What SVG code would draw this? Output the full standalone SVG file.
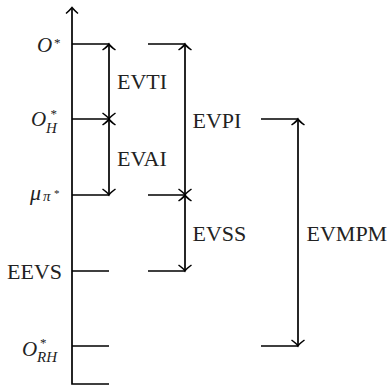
<svg xmlns="http://www.w3.org/2000/svg" width="390" height="387" viewBox="0 0 390 387">
<defs>
<style>
.ln{fill:none;stroke:#000;stroke-width:1.7;stroke-linecap:butt}
.ar{fill:none;stroke:#000;stroke-width:1.7;marker-start:url(#ah);marker-end:url(#ah)}
.lbl{font-family:"Liberation Serif","Times New Roman",serif;font-size:22px;fill:#222}
.m{font-family:"Liberation Serif","Times New Roman",serif;font-size:21px;font-style:italic;fill:#222}
.sup{font-size:13px;font-style:normal}
.sub{font-size:15px;font-style:italic}
</style>
<marker id="ah" viewBox="-8 -8 10 16" markerWidth="10" markerHeight="16" refX="0" refY="0" orient="auto-start-reverse" markerUnits="userSpaceOnUse">
<path d="M-6,-6.5 Q-2.5,-1.5 0,0 Q-2.5,1.5 -6,6.5" fill="none" stroke="#000" stroke-width="1.5"/>
</marker>
</defs>
<g id="axis">
<path class="ln" d="M109,384 H72 V8.5"/>
<path d="M66,13.5 Q70,10 72,7.5 Q74,10 78,13.5" fill="none" stroke="#000" stroke-width="1.5"/>
</g>
<g id="ticks">
<path class="ln" d="M72,44H109 M72,119H109 M72,195H109 M72,271H109 M72,346H109"/>
<path class="ln" d="M148,44H185 M148,195H185 M148,271H185"/>
<path class="ln" d="M261,119H298 M261,346H298"/>
</g>
<g id="connectors">
<path class="ar" d="M109,44V119"/>
<path class="ar" d="M109,119V195"/>
<path class="ar" d="M185,44V195"/>
<path class="ar" d="M185,195V271"/>
<path class="ar" d="M298,119V346"/>
</g>
<g id="axis-labels">
<g id="O-star"><text class="m"><tspan x="37" y="52">O</tspan><tspan class="sup" x="54" y="47">*</tspan></text></g>
<g id="O-H"><text class="m"><tspan x="31" y="126">O</tspan><tspan class="sup" x="50.5" y="117.5">*</tspan><tspan class="sub" x="46" y="132.5">H</tspan></text></g>
<g id="mu"><text class="m"><tspan x="30" y="199.5" style="font-size:22px">μ</tspan><tspan class="sub" x="43" y="201">π</tspan><tspan class="sup" x="54" y="197" style="font-size:11px">*</tspan></text></g>
<g id="EEVS"><text class="lbl" x="62" y="279" text-anchor="end">EEVS</text></g>
<g id="O-RH"><text class="m"><tspan x="22" y="356">O</tspan><tspan class="sup" x="40" y="347">*</tspan><tspan class="sub" x="37" y="362">RH</tspan></text></g>
</g>
<g id="value-labels">
<text class="lbl" x="117" y="89">EVTI</text>
<text class="lbl" x="117" y="165.5">EVAI</text>
<text class="lbl" x="192.5" y="127.5">EVPI</text>
<text class="lbl" x="192.5" y="241">EVSS</text>
<text class="lbl" x="306.5" y="241">EVMPM</text>
</g>
</svg>
